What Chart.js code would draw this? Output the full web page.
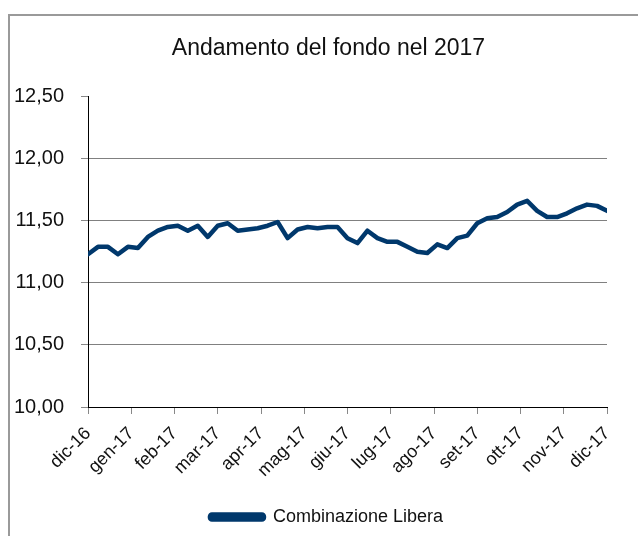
<!DOCTYPE html>
<html>
<head>
<meta charset="utf-8">
<script src="https://cdn.jsdelivr.net/npm/chart.js@4/dist/chart.umd.min.js"></script>
<style>
body { margin: 0; background: #fff; }
#wrap { width: 638px; height: 536px; position: relative; }
</style>
</head>
<body>
<div id="wrap"><canvas id="fondo"></canvas></div>
<script>
// etichette dei mesi sull'asse x
const mesi = ['dic-16', 'gen-17', 'feb-17', 'mar-17', 'apr-17', 'mag-17', 'giu-17',
    'lug-17', 'ago-17', 'set-17', 'ott-17', 'nov-17', 'dic-17'];

// valore quota settimanale
const valori = [
    11.23, 11.29, 11.29, 11.23, 11.29, 11.28, 11.37, 11.42, 11.45, 11.46,
    11.42, 11.46, 11.37, 11.46, 11.48, 11.42, 11.43, 11.44, 11.46, 11.49,
    11.36, 11.43, 11.45, 11.44, 11.45, 11.45, 11.36, 11.32, 11.42, 11.36,
    11.33, 11.33, 11.29, 11.25, 11.24, 11.31, 11.28, 11.36, 11.38, 11.48,
    11.52, 11.53, 11.57, 11.63, 11.66, 11.58, 11.53, 11.53, 11.56, 11.60,
    11.63, 11.62, 11.58
];

const yTicks = [10, 10.5, 11, 11.5, 12, 12.5];

const blu = 'rgb(0, 56, 108)';
const font = "'Liberation Sans', Arial, sans-serif";

const settimane = valori.length - 1;

// cornice grigia come nel foglio originale
const cornice = {
    id: 'cornice',
    afterLayout(chart) {
        // titolo e legenda nell'originale sono centrati un po' piu' a destra
        chart.titleBlock.left += 20;
        chart.titleBlock.right += 20;
        chart.legend.left += 18;
        chart.legend.right += 18;
    },
    beforeDraw(chart) {
        const c = chart.ctx;
        c.save();
        c.fillStyle = '#fff';
        c.fillRect(0, 0, chart.width, chart.height);
        c.strokeStyle = '#9a9a9a';
        c.lineWidth = 2;
        c.beginPath();
        c.moveTo(9, chart.height);
        c.lineTo(9, 15);
        c.lineTo(chart.width, 15);
        c.stroke();
        c.restore();
    }
};

let ctx = document.getElementById('fondo');
let andamento = new Chart(ctx, {
    type: 'line',
    data: {
        datasets: [{
            label: 'Combinazione Libera',
            data: valori.map(function (v, i) { return { x: i, y: v }; }),
            borderColor: blu,
            backgroundColor: blu,
            borderWidth: 4.5,
            borderJoinStyle: 'round',
            borderCapStyle: 'round',
            pointRadius: 0,
            tension: 0
        }]
    },
    options: {
        responsive: true,
        maintainAspectRatio: false,
        animation: false,
        layout: {
            padding: { left: 10, right: 31, top: 0, bottom: 0 }
        },
        plugins: {
            title: {
                display: true,
                text: 'Andamento del fondo nel 2017',
                color: '#111',
                font: { family: font, size: 23, weight: 'normal' },
                padding: { top: 35, bottom: 34 }
            },
            legend: {
                position: 'bottom',
                labels: {
                    color: '#111',
                    boxWidth: 54,
                    boxHeight: 5,
                    padding: 8,
                    useBorderRadius: true,
                    borderRadius: 2,
                    font: { family: font, size: 18 }
                }
            },
            tooltip: { enabled: false }
        },
        scales: {
            x: {
                type: 'linear',
                min: 0,
                max: settimane,
                afterBuildTicks: function (scale) {
                    scale.ticks = mesi.map(function (m, k) {
                        return { value: k * settimane / (mesi.length - 1) };
                    });
                },
                afterFit: function (scale) { scale.height = 93; },
                ticks: {
                    color: '#111',
                    autoSkip: false,
                    minRotation: 45,
                    maxRotation: 45,
                    padding: 9,
                    font: { family: font, size: 18 },
                    callback: function (value, index) { return mesi[index]; }
                },
                grid: {
                    drawOnChartArea: false,
                    tickLength: 7,
                    tickColor: '#888'
                },
                border: { color: '#000', width: 1 }
            },
            y: {
                min: 10,
                max: 12.5,
                afterBuildTicks: function (scale) {
                    scale.ticks = yTicks.map(function (v) { return { value: v }; });
                },
                afterFit: function (scale) { scale.width = 78; },
                ticks: {
                    color: '#111',
                    padding: 17,
                    font: { family: font, size: 20 },
                    callback: function (value) { return value.toFixed(2).replace('.', ','); }
                },
                grid: {
                    color: function (c) {
                        return (c.tick && c.tick.value > 10 && c.tick.value < 12.5) ? '#808080' : 'rgba(0,0,0,0)';
                    },
                    tickColor: '#888',
                    tickLength: 7
                },
                border: { color: '#000', width: 1 }
            }
        }
    },
    plugins: [cornice]
});
</script>
</body>
</html>
